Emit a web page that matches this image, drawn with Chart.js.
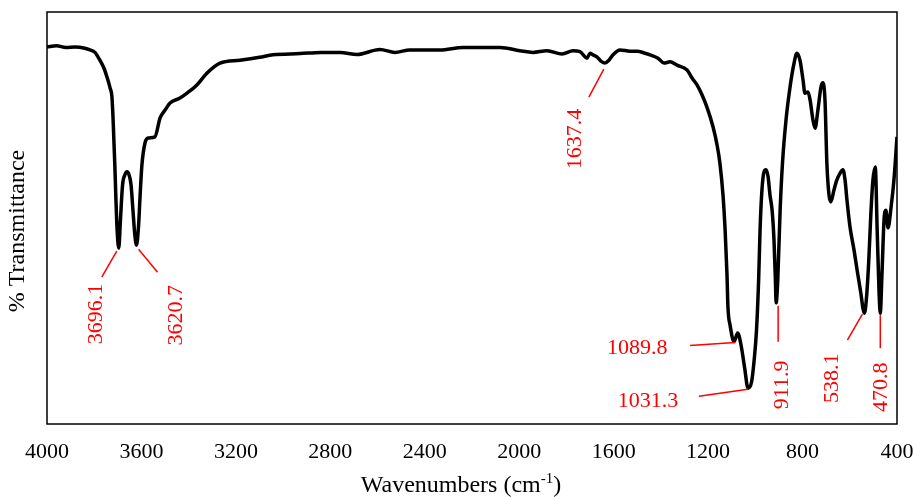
<!DOCTYPE html>
<html lang="en">
<head>
<meta charset="UTF-8" />
<title>FTIR spectrum</title>
<script src="https://cdn.jsdelivr.net/npm/chart.js"></script>
<style>
  body { margin: 0; background: #fff; }
  #wrap { position: relative; width: 917px; height: 497px; }
</style>
</head>
<body>
<div id="wrap"><canvas id="myChart"></canvas></div>
<script>
  // spectrum (wavenumber in cm-1, transmittance in relative %)
  var wavenumbers = [
    4000, 3960, 3920, 3881, 3840, 3818, 3797, 3776, 3759, 3746, 3733, 3725, 3720, 3713, 3708, 3703,
    3696, 3689, 3680, 3670, 3661, 3652, 3644, 3636, 3628, 3621, 3612, 3606, 3598, 3585, 3572, 3543,
    3521, 3500, 3479, 3437, 3407, 3365, 3322, 3267, 3183, 3100, 3043, 2928, 2840, 2759, 2687, 2590,
    2526, 2463, 2336, 2238, 2081, 1997, 1942, 1882, 1819, 1772, 1743, 1713, 1700, 1688, 1671, 1654,
    1637, 1620, 1603, 1573, 1531, 1501, 1467, 1446, 1412, 1387, 1361, 1332, 1289, 1268, 1247, 1226,
    1205, 1179, 1162, 1150, 1137, 1128, 1120, 1116, 1107, 1090, 1075, 1060, 1045, 1031, 1016, 1005,
    995, 986, 980, 972, 963, 955, 946, 938, 929, 921, 915, 912, 905, 895, 885, 870,
    853, 836, 824, 811, 798, 790, 777, 768, 756, 747, 735, 722, 714, 705, 697, 688,
    680, 667, 655, 641, 629, 620, 612, 599, 582, 569, 552, 544, 538, 530, 520, 511,
    502, 492, 484, 476, 471, 463, 455, 447, 438, 425, 413, 400
  ];
  var transmittance = [
    91.5, 91.8, 91.4, 91.5, 91.2, 90.8, 90.2, 88.3, 86.4, 84.2, 81.6, 79.4, 73.8, 63.3, 54.4, 47.1,
    42.7, 49.5, 58.0, 60.5, 61.2, 60.4, 58.0, 51.9, 45.9, 43.4, 48.3, 55.1, 62.9, 68.2, 69.4, 69.7,
    74.3, 76.2, 77.9, 79.1, 80.3, 82.3, 85.2, 87.6, 88.3, 89.0, 89.6, 89.9, 90.2, 90.2, 89.7, 90.9,
    90.2, 90.8, 90.8, 91.4, 91.4, 90.6, 90.2, 90.6, 89.8, 90.6, 90.4, 88.8, 90.0, 89.6, 89.1, 88.1,
    87.6, 88.3, 89.6, 90.8, 90.5, 90.5, 90.0, 89.6, 88.8, 87.6, 87.9, 87.1, 85.9, 84.0, 82.3, 79.9,
    76.9, 72.1, 67.7, 63.3, 55.6, 47.1, 36.2, 28.4, 24.0, 20.0, 22.1, 19.0, 13.5, 8.7, 10.2, 15.5,
    22.8, 35.0, 47.1, 56.8, 61.2, 61.7, 60.0, 55.6, 51.9, 44.7, 35.0, 29.4, 35.0, 51.9, 63.3, 73.8,
    81.8, 87.6, 90.0, 88.3, 83.5, 80.3, 80.6, 78.6, 73.8, 71.8, 76.2, 81.8, 82.8, 78.6, 63.3, 55.6,
    53.9, 56.8, 59.2, 60.9, 61.7, 59.2, 54.4, 47.8, 42.2, 37.4, 31.3, 28.0, 26.9, 30.1, 39.1, 50.7,
    59.2, 62.4, 47.1, 32.0, 26.9, 37.4, 49.5, 51.9, 47.6, 52.7, 59.2, 69.7
  ];
  var xTicks = [4000, 3600, 3200, 2800, 2400, 2000, 1600, 1200, 800, 400];
  var peakLabels = ["3696.1", "3620.7", "1637.4", "1089.8", "1031.3", "911.9", "538.1", "470.8"];
  var peakWavenumbers = [3696.1, 3620.7, 1637.4, 1089.8, 1031.3, 911.9, 538.1, 470.8];

  // leader line and label placement, pixel offsets from the peak on the curve
  var peakLayout = [
    { line: [-2, 3, -17, 29], text: [-23, 66], rotate: true },
    { line: [2, 4, 21, 27], text: [40, 70], rotate: true },
    { line: [-1, 6, -16, 34], text: [-30, 76], rotate: true },
    { line: [1, 1, -44, 4], text: [-97, 7], rotate: false },
    { line: [0, 1, -49, 8], text: [-100, 13], rotate: false },
    { line: [2, 3, 2, 39], text: [6, 82], rotate: true },
    { line: [-2, 1, -17, 27], text: [-32, 65], rotate: true },
    { line: [0, 2, 0, 35], text: [1, 74], rotate: true }
  ];

  var serif = "'Liberation Serif', 'Times New Roman', serif";

  function valueAt(wn) {
    var best = 0;
    for (var i = 1; i < wavenumbers.length; i++) {
      if (Math.abs(wavenumbers[i] - wn) < Math.abs(wavenumbers[best] - wn)) best = i;
    }
    return transmittance[best];
  }

  var extrasPlugin = {
    id: "extras",
    afterDraw: function (chart) {
      var c = chart.ctx;
      var a = chart.chartArea;
      var xs = chart.scales.x;
      var ys = chart.scales.y;
      c.save();

      // frame
      c.strokeStyle = "#000";
      c.lineWidth = 1.5;
      c.strokeRect(a.left, a.top, a.right - a.left, a.bottom - a.top);

      // peak labels
      c.strokeStyle = "#ff0000";
      c.fillStyle = "#ff0000";
      c.lineWidth = 1.5;
      c.font = "22px " + serif;
      c.textAlign = "center";
      c.textBaseline = "middle";
      peakWavenumbers.forEach(function (wn, i) {
        var px = xs.getPixelForValue(wn);
        var py = ys.getPixelForValue(valueAt(wn));
        var l = peakLayout[i];
        c.beginPath();
        c.moveTo(px + l.line[0], py + l.line[1]);
        c.lineTo(px + l.line[2], py + l.line[3]);
        c.stroke();
        c.save();
        c.translate(px + l.text[0], py + l.text[1]);
        if (l.rotate) c.rotate(-Math.PI / 2);
        c.fillText(peakLabels[i], 0, 0);
        c.restore();
      });

      // axis titles
      c.fillStyle = "#000";
      c.font = "24px " + serif;
      c.save();
      c.translate(18, 231);
      c.rotate(-Math.PI / 2);
      c.fillText("% Transmittance", 0, 0);
      c.restore();

      var main = "Wavenumbers (cm";
      var sup = "-1";
      var w1 = c.measureText(main).width;
      var w3 = c.measureText(")").width;
      c.font = "15px " + serif;
      var w2 = c.measureText(sup).width;
      var x0 = 461 - (w1 + w2 + w3) / 2;
      c.textAlign = "left";
      c.font = "24px " + serif;
      c.fillText(main, x0, 486);
      c.font = "15px " + serif;
      c.fillText(sup, x0 + w1, 479);
      c.font = "24px " + serif;
      c.fillText(")", x0 + w1 + w2, 486);
      c.restore();
    }
  };

  var ctx = document.getElementById("myChart");
  new Chart(ctx, {
    type: "line",
    data: {
      datasets: [
        {
          data: wavenumbers.map(function (w, i) { return { x: w, y: transmittance[i] }; }),
          borderColor: "#000",
          borderWidth: 3.5,
          pointRadius: 0,
          fill: false,
          cubicInterpolationMode: "monotone"
        }
      ]
    },
    options: {
      responsive: true,
      maintainAspectRatio: false,
      animation: false,
      layout: { padding: { top: 12, right: 20, left: 0, bottom: 0 } },
      plugins: { legend: { display: false }, tooltip: { enabled: false } },
      scales: {
        x: {
          type: "linear",
          reverse: true,
          min: 400,
          max: 4000,
          afterBuildTicks: function (s) {
            s.ticks = xTicks.map(function (v) { return { value: v }; });
          },
          ticks: {
            color: "#000",
            font: { family: serif, size: 22 },
            padding: 15,
            maxRotation: 0,
            autoSkip: false,
            callback: function (v) { return String(v); }
          },
          grid: { display: false, drawTicks: false },
          border: { display: false },
          afterFit: function (s) {
            s.height = 73;
            s.paddingLeft = 0;
            s.paddingRight = 0;
          }
        },
        y: {
          min: 0,
          max: 100,
          ticks: { display: false },
          grid: { display: false, drawTicks: false },
          border: { display: false },
          afterFit: function (s) { s.width = 47; }
        }
      }
    },
    plugins: [extrasPlugin]
  });
</script>
</body>
</html>
